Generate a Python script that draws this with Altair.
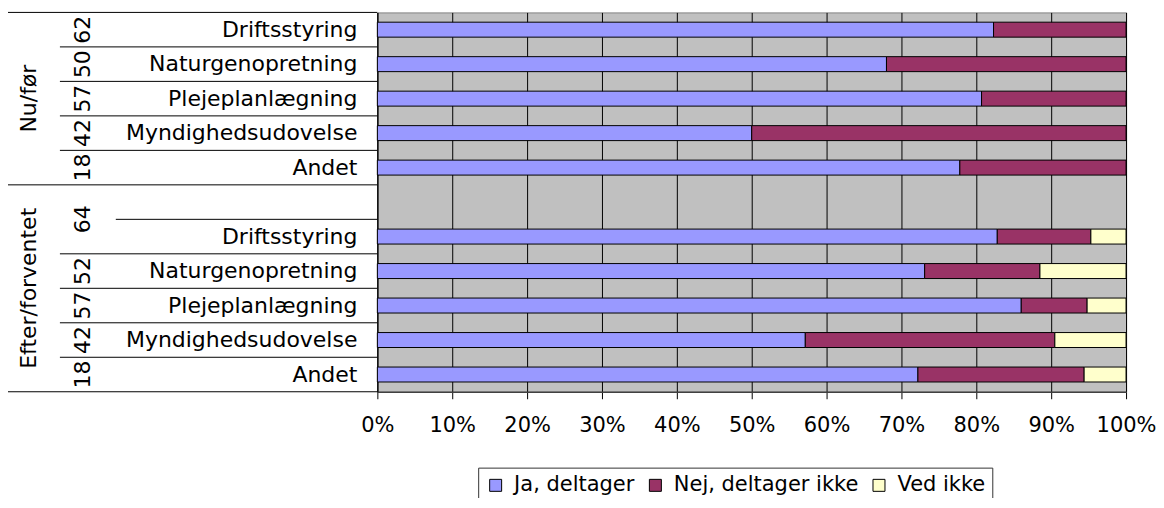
import altair as alt
import pandas as pd

# ---------------- data ----------------
groups = ["Nu/før", "Efter/forventet"]
categories = ["Driftsstyring", "Naturgenopretning", "Plejeplanlægning",
              "Myndighedsudovelse", "Andet"]
n_nu = [62, 50, 57, 42, 18]
n_efter = [64, 52, 57, 42, 18]

series = ["Ja, deltager", "Nej, deltager ikke", "Ved ikke"]
colors = ["#9999FF", "#993366", "#FFFFCC"]

ja_nu = [82.3, 68.0, 80.7, 50.0, 77.8]
nej_nu = [17.7, 32.0, 19.3, 50.0, 22.2]
ved_nu = [0.0, 0.0, 0.0, 0.0, 0.0]

ja_efter = [82.8, 73.1, 86.0, 57.1, 72.2]
nej_efter = [12.5, 15.4, 8.8, 33.3, 22.2]
ved_efter = [4.7, 11.5, 5.2, 9.5, 5.6]

x_ticks = [0.0, 0.1, 0.2, 0.3, 0.4, 0.5, 0.6, 0.7, 0.8, 0.9, 1.0]

# ---------------- tables ----------------
rows_nu = [f"{groups[0]}|{c}" for c in categories]
blank_row = f"{groups[1]}|"
rows_efter = [f"{groups[1]}|{c}" for c in categories]
rows = rows_nu + [blank_row] + rows_efter

recs = []
for g_rows, vals in [(rows_nu, [ja_nu, nej_nu, ved_nu]),
                     (rows_efter, [ja_efter, nej_efter, ved_efter])]:
    for i, r in enumerate(g_rows):
        for k, s in enumerate(series):
            v = vals[k][i]
            if v > 0:
                recs.append({"row": r, "serie": s, "k": k, "pct": v})
bars_df = pd.DataFrame(recs)

cat_df = pd.DataFrame({"row": rows_nu + rows_efter, "label": categories + categories})
n_df = pd.DataFrame({"row": rows_nu + rows_efter[1:],
                     "label": [str(v) for v in n_nu + n_efter[1:]]})
n_span_df = pd.DataFrame({"row": [rows_efter[0]], "label": [str(n_efter[0])]})
grp1_df = pd.DataFrame({"row": [rows_nu[2]], "label": [groups[0]]})
grp2_df = pd.DataFrame({"row": [rows_efter[1]], "label": [groups[1]]})

full_top_df = pd.DataFrame({"row": [rows[0], rows[5]]})
full_bottom_df = pd.DataFrame({"row": [rows[-1]]})
mid_df = pd.DataFrame({"row": rows[1:5] + rows[7:11]})
short_df = pd.DataFrame({"row": [rows[6]]})

# ---------------- layout ----------------
W, H = 750, 380
STEP = H / len(rows)
HALF = STEP / 2
FONT = "DejaVu Sans"

y_scale = alt.Scale(domain=rows, paddingInner=0.566, paddingOuter=0.283)
y_axis = alt.Axis(labels=False, ticks=False, title=None, grid=False,
                  domainColor="black", domainWidth=1)
y_enc = alt.Y("row:N", scale=y_scale, axis=y_axis)

bars = alt.Chart(bars_df).mark_bar(stroke="black", strokeWidth=1).encode(
    x=alt.X("pct:Q", stack="normalize",
            scale=alt.Scale(domain=[0, 1], nice=False, zero=True),
            axis=alt.Axis(values=x_ticks, format=".0%", title=None, grid=True,
                          gridColor="black", gridWidth=1, tickColor="black",
                          tickSize=7, tickWidth=1, labelFontSize=21, labelFont=FONT,
                          labelColor="black", labelPadding=16, labelFlush=False,
                          labelOverlap=False, domainColor="#404040", domainWidth=1.5)),
    y=y_enc,
    color=alt.Color("serie:N", title=None,
                    scale=alt.Scale(domain=series, range=colors),
                    legend=alt.Legend(orient="none", legendX=101, legendY=456,
                                      direction="horizontal", columns=3,
                                      symbolType="square", symbolSize=144,
                                      symbolStrokeColor="black", symbolStrokeWidth=1,
                                      symbolOpacity=1,
                                      labelFontSize=21, labelFont=FONT,
                                      labelColor="black", labelLimit=400,
                                      labelOffset=8, columnPadding=10, padding=7,
                                      strokeColor="#333333", fillColor="white")),
    order=alt.Order("k:Q"),
)

def rule(df, x0, offset):
    return alt.Chart(df).mark_rule(color="black", strokeWidth=1, yOffset=offset).encode(
        y=y_enc, x=alt.value(x0), x2=alt.value(0))

rules = [
    rule(full_top_df, -370, -HALF),
    rule(full_bottom_df, -370, HALF),
    rule(mid_df, -318, -HALF),
    rule(short_df, -262, -HALF),
]

cat_text = alt.Chart(cat_df).mark_text(
    align="right", baseline="middle", fontSize=22, font=FONT, color="black"
).encode(y=y_enc, x=alt.value(-20), text="label:N")

n_text = alt.Chart(n_df).mark_text(
    angle=270, align="center", baseline="middle", fontSize=22, font=FONT, color="black"
).encode(y=y_enc, x=alt.value(-295), text="label:N")

n_span_text = alt.Chart(n_span_df).mark_text(
    angle=270, align="center", baseline="middle", fontSize=22, font=FONT,
    color="black", yOffset=-HALF
).encode(y=y_enc, x=alt.value(-295), text="label:N")

grp1_text = alt.Chart(grp1_df).mark_text(
    angle=270, align="center", baseline="middle", fontSize=22, font=FONT, color="black"
).encode(y=y_enc, x=alt.value(-349), text="label:N")

grp2_text = alt.Chart(grp2_df).mark_text(
    angle=270, align="center", baseline="middle", fontSize=22, font=FONT,
    color="black", yOffset=HALF
).encode(y=y_enc, x=alt.value(-349), text="label:N")

chart = alt.layer(
    *rules, bars, cat_text, n_text, n_span_text, grp1_text, grp2_text
).properties(
    width=W, height=H,
    autosize=alt.AutoSizeParams(type="none"),
    padding={"left": 370, "top": 4, "right": 30, "bottom": 106},
    background="white",
).configure_view(
    fill="#C0C0C0", stroke="#808080", strokeWidth=1
).configure_text(font=FONT)

chart.save("out.html", embed_options={"renderer": "svg", "actions": False})
